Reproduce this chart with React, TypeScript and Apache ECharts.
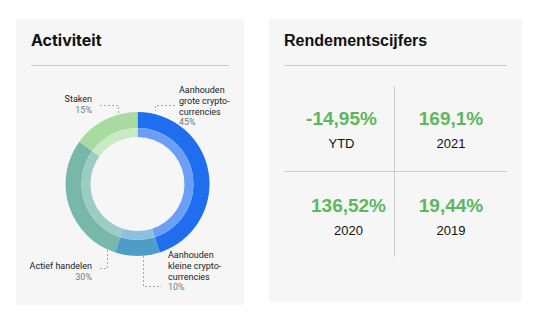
import React, { useEffect, useRef } from "react";
import * as echarts from "echarts";

const activityNames = ["Aanhouden grote crypto-currencies", "Aanhouden kleine crypto-currencies", "Actief handelen", "Staken"];
const activityLabels = ["Aanhouden\ngrote crypto-\ncurrencies", "Aanhouden\nkleine crypto-\ncurrencies", "Actief handelen", "Staken"];
const activityValues = [45, 10, 30, 15];
const outerColors = ["#1f6ef0", "#4e9cc8", "#78b8aa", "#a8dba0"];
const innerColors = ["#6a9ff5", "#8cc0e2", "#9ccdc4", "#c8ebc3"];

const returnValues = [-14.95, 169.1, 136.52, 19.44];
const returnPeriods = ["YTD", "2021", "2020", "2019"];

const fmt = (v: number) => v.toString().replace(".", ",") + "%";

export default function App() {
  const ref = useRef<HTMLDivElement>(null);
  useEffect(() => {
    const chart = echarts.init(ref.current!, null, { renderer: "svg" });
    const cx = 137.5, cy = 184;
    const labelFont = "Roboto, 'Noto Sans', sans-serif";
    const titleFont = "Inter, 'Noto Sans', sans-serif";
    const rFont = "'Liberation Sans', Arial, sans-serif";
    const dash = { stroke: "#a8a8a8", lineWidth: 1, lineDash: [2, 2], fill: "none" };
    const txt = (x: number, y: number, text: string, opts: any) => ({
      type: "text", x, y, silent: true,
      style: { text, fill: "#222", fontFamily: labelFont, fontSize: 9, lineHeight: 10.7, align: "left", verticalAlign: "top", textAlign: "left", textVerticalAlign: "top", ...opts },
    });
    const graphic: any[] = [
      { type: "rect", shape: { x: 16, y: 19, width: 228, height: 286 }, style: { fill: "#f6f6f6" }, z: -10 },
      { type: "rect", shape: { x: 269, y: 19, width: 253, height: 283 }, style: { fill: "#f6f6f6" }, z: -10 },
      txt(31, 35, "Activiteit", { fontSize: 16, fontWeight: "bold", fill: "#111", fontFamily: titleFont }),
      txt(284, 35, "Rendementscijfers", { fontSize: 16, fontWeight: "bold", fill: "#111", fontFamily: rFont }),
      { type: "line", shape: { x1: 31, y1: 65.5, x2: 229, y2: 65.5 }, style: { stroke: "#cccccc", lineWidth: 1 } },
      { type: "line", shape: { x1: 284, y1: 65.5, x2: 507, y2: 65.5 }, style: { stroke: "#cccccc", lineWidth: 1 } },
      { type: "line", shape: { x1: 394.5, y1: 86, x2: 394.5, y2: 257 }, style: { stroke: "#cccccc", lineWidth: 1 } },
      { type: "line", shape: { x1: 284, y1: 171.5, x2: 507, y2: 171.5 }, style: { stroke: "#cccccc", lineWidth: 1 } },
      // leader lines
      { type: "polyline", shape: { points: [[175, 105.5], [155.5, 105.5], [155.5, 111]] }, style: dash },
      { type: "polyline", shape: { points: [[100, 105.5], [118.5, 105.5], [118.5, 121]] }, style: dash },
      { type: "polyline", shape: { points: [[107.5, 242], [107.5, 268.5], [99, 268.5]] }, style: dash },
      { type: "polyline", shape: { points: [[143.5, 256], [143.5, 286.5], [162, 286.5]] }, style: dash },
      // labels
      txt(179, 85, activityLabels[0], {}),
      txt(179, 117, activityValues[0] + "%", { fill: "#777" }),
      txt(92, 94, activityLabels[3], { align: "right", textAlign: "right" }),
      txt(92, 105, activityValues[3] + "%", { fill: "#777", align: "right", textAlign: "right" }),
      txt(92, 260.5, activityLabels[2], { align: "right", textAlign: "right" }),
      txt(92, 271.5, activityValues[2] + "%", { fill: "#777", align: "right", textAlign: "right" }),
      txt(168, 250, activityLabels[1], {}),
      txt(168, 281.5, activityValues[1] + "%", { fill: "#777" }),
    ];
    const pos = [[341.5, 118], [451, 118], [348.5, 205], [451, 205]];
    returnValues.forEach((v, i) => {
      const [x, y] = pos[i];
      graphic.push({
        type: "text", x, y, silent: true,
        style: { text: fmt(v), fill: "#5cb85c", fontFamily: rFont, fontSize: 19, fontWeight: "bold", align: "center", verticalAlign: "middle", textAlign: "center", textVerticalAlign: "middle" },
      });
      graphic.push({
        type: "text", x, y: y + 25, silent: true,
        style: { text: returnPeriods[i], fill: "#111", fontFamily: rFont, fontSize: 13, align: "center", verticalAlign: "middle", textAlign: "center", textVerticalAlign: "middle" },
      });
    });
    const mk = (colors: string[]) => activityValues.map((v, i) => ({ name: activityNames[i], value: v, itemStyle: { color: colors[i] } }));
    chart.setOption({
      animation: false,
      graphic,
      series: [
        { type: "pie", center: [cx, cy], radius: [56, 72], startAngle: 90, clockwise: true, silent: true, label: { show: false }, labelLine: { show: false }, data: mk(outerColors) },
        { type: "pie", center: [cx, cy], radius: [47, 56], startAngle: 90, clockwise: true, silent: true, label: { show: false }, labelLine: { show: false }, data: mk(innerColors) },
      ],
    });
    return () => chart.dispose();
  }, []);
  return <div ref={ref} style={{ position: "fixed", left: 0, top: 0, width: 536, height: 318, background: "#fff" }} />;
}
